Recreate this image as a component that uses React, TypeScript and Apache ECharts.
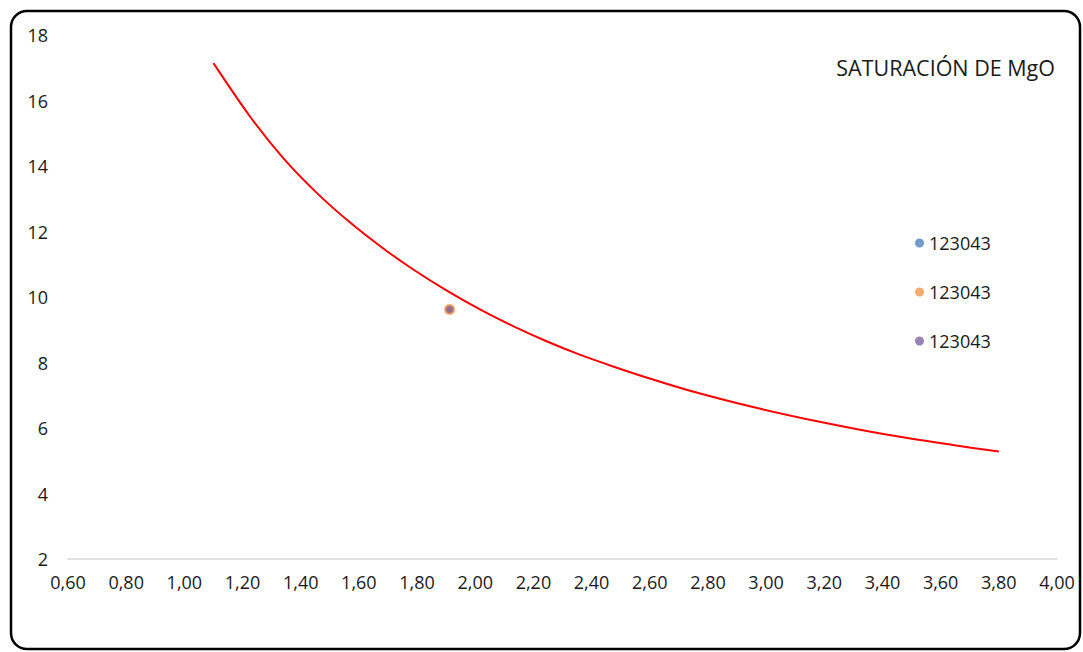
import React, { useEffect, useRef } from "react";
import * as echarts from "echarts";

// Curve (x, y)
const curveX = [1.10, 1.225, 1.340, 1.455, 1.569, 1.684, 1.787, 1.901, 2.016, 2.130, 2.245, 2.359, 2.474, 2.60, 2.726, 2.955, 3.184, 3.413, 3.642, 3.80];
const curveY = [17.14, 15.52, 14.24, 13.18, 12.28, 11.48, 10.84, 10.20, 9.62, 9.11, 8.65, 8.24, 7.88, 7.51, 7.17, 6.64, 6.19, 5.80, 5.48, 5.28];

// Sample points
const seriesNames = ["s1", "s2", "s3"];
const legendLabels = ["123043", "123043", "123043"];
const pointX = [1.912, 1.912, 1.912];
const pointY = [9.62, 9.62, 9.62];
const pointColors = ["#4F81BD", "#F79646", "#8064A2"];
const pointSizes = [9, 11, 7];

const titleText = "SATURACIÓN DE MgO";

const FONT = "'Open Sans', sans-serif";

export default function App() {
  const ref = useRef<HTMLDivElement>(null);
  useEffect(() => {
    document.body.style.margin = "0";
    const chart = echarts.init(ref.current!, null, { renderer: "svg" });
    const curveData = curveX.map((x, i) => [x, curveY[i]]);
    const scatterSeries = seriesNames.map((n, i) => ({
      name: n,
      type: "scatter",
      data: [[pointX[i], pointY[i]]],
      symbol: "circle",
      symbolSize: pointSizes[i],
      itemStyle: { color: pointColors[i] },
      z: 3 + i,
    }));
    chart.setOption({
      animation: false,
      backgroundColor: "#ffffff",
      title: {
        text: titleText,
        right: 23,
        top: 51,
        textStyle: { fontFamily: FONT, fontSize: 21.5, fontWeight: "normal", color: "#1a1a1a" },
      },
      legend: {
        orient: "vertical",
        left: 910,
        top: 228,
        icon: "circle",
        itemWidth: 9,
        itemHeight: 9,
        itemGap: 29,
        data: seriesNames.map((n, i) => ({ name: n, itemStyle: { color: pointColors[i] } })),
        formatter: (name: string) => legendLabels[seriesNames.indexOf(name)],
        textStyle: { fontFamily: FONT, fontSize: 18, color: "#1a1a1a", lineHeight: 20, padding: [0, 0, 0, 0] },
      },
      grid: { left: 68, right: 26, top: 35, bottom: 93, containLabel: false },
      xAxis: {
        type: "value",
        min: 0.6,
        max: 4.0,
        interval: 0.2,
        axisLine: { show: true, lineStyle: { color: "#d9d9d9", width: 1.5 } },
        axisTick: { show: false },
        splitLine: { show: false },
        axisLabel: {
          fontFamily: FONT,
          fontSize: 18,
          color: "#1a1a1a",
          margin: 14,
          showMaxLabel: true,
          showMinLabel: true,
          formatter: (v: number) => v.toFixed(2).replace(".", ","),
        },
      },
      yAxis: {
        type: "value",
        min: 2,
        max: 18,
        interval: 2,
        axisLine: { show: false },
        axisTick: { show: false },
        splitLine: { show: false },
        axisLabel: { fontFamily: FONT, fontSize: 18, color: "#1a1a1a", margin: 20 },
      },
      graphic: [
        {
          type: "rect",
          shape: { x: 11, y: 11, width: 1069, height: 638, r: 16 },
          style: { fill: "none", stroke: "#000000", lineWidth: 2.5 },
          silent: true,
          z: 100,
        },
      ],
      series: [
        {
          name: "curve",
          type: "line",
          data: curveData,
          smooth: 0.3,
          showSymbol: false,
          symbol: "none",
          lineStyle: { color: "#ff0000", width: 2 },
          z: 2,
        },
        ...scatterSeries,
      ],
    });
    return () => chart.dispose();
  }, []);
  return <div ref={ref} style={{ width: 1083, height: 652 }} />;
}
